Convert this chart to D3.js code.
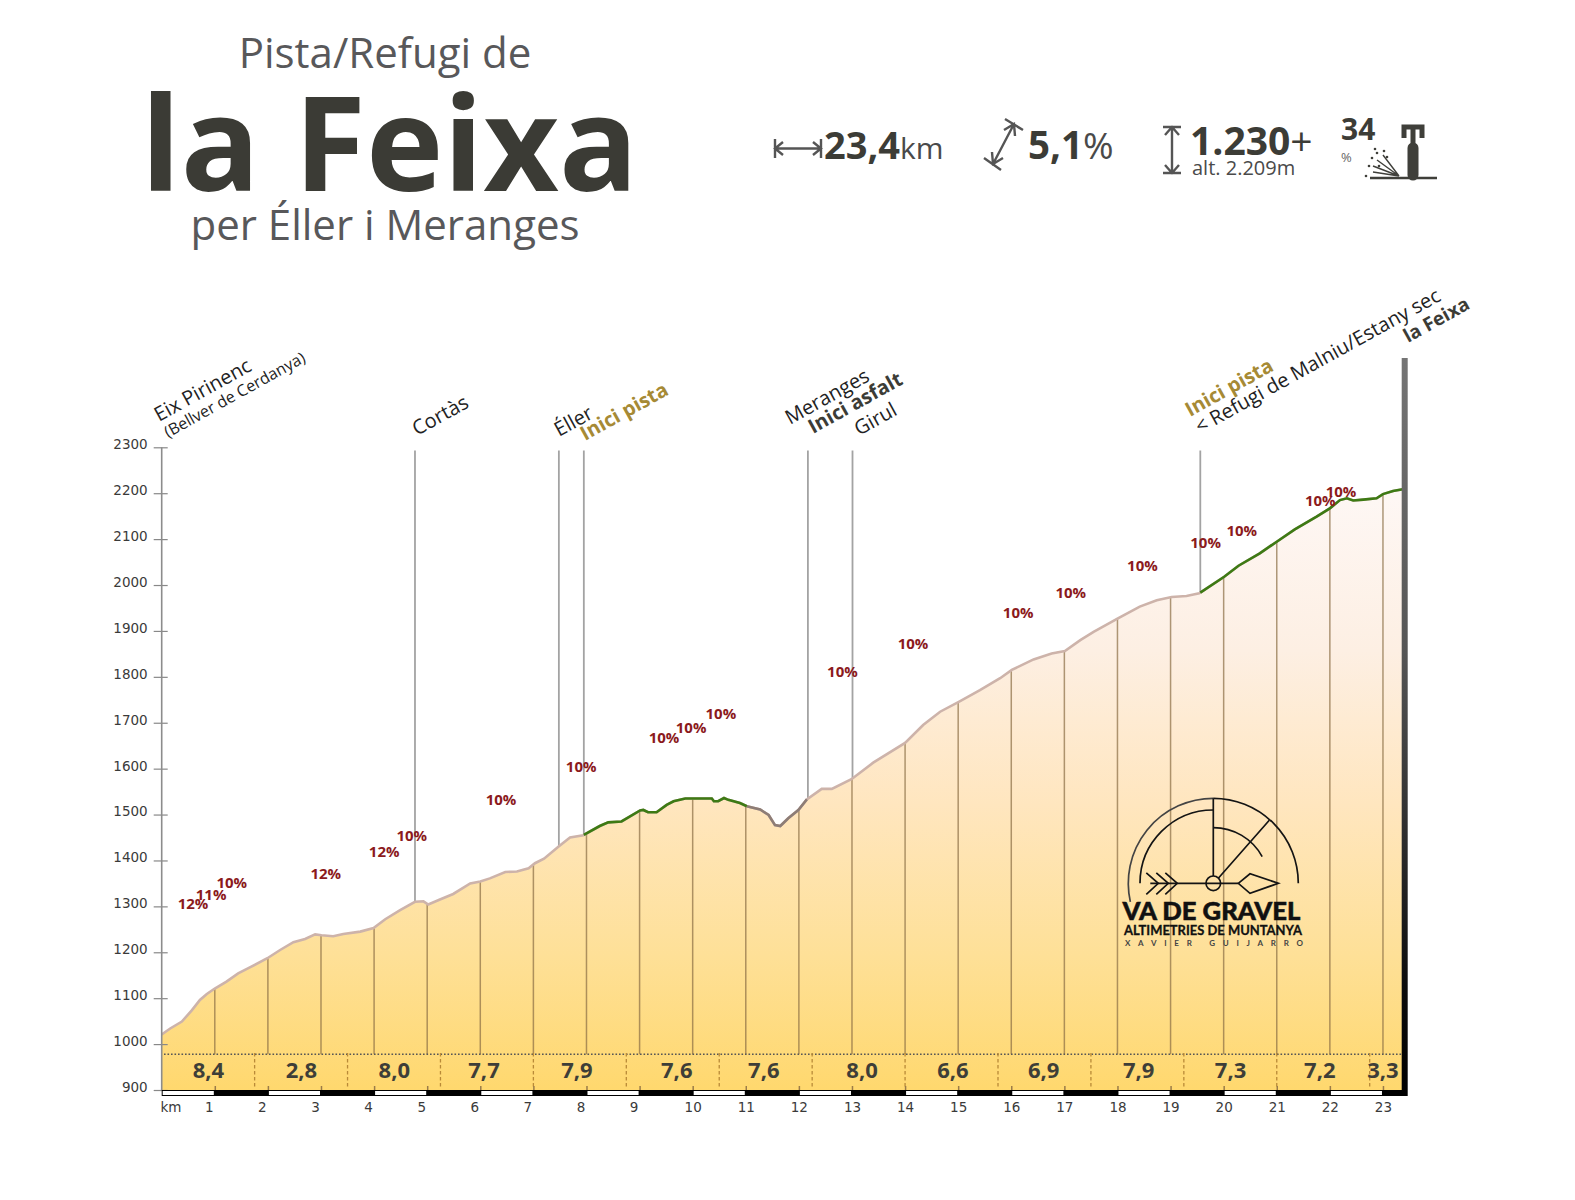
<!DOCTYPE html>
<html>
<head>
<meta charset="utf-8">
<script src="https://cdnjs.cloudflare.com/ajax/libs/d3/7.8.5/d3.min.js"></script>
<style>
  body { margin: 0; background: #fff; }
  text { font-family: "Open Sans", sans-serif; }
  .axis text { font-family: "DejaVu Sans", sans-serif; font-size: 13.5px; fill: #3a3a3a; }
  .axis path { display: none; }
</style>
</head>
<body>
<div id="chart"></div>
<script>
/* profile */
const profileKm = [0, .16, .38, .57, .72, .85, 1, 1.22, 1.44, 1.66, 1.99, 2.23, 2.48, 2.7, 2.89, 3.01, 3.23, 3.42, 3.74, 3.99,
  4.21, 4.49, 4.77, 4.93, 5.02, 5.24, 5.49, 5.81, 6, 6.18, 6.47, 6.69, 6.91, 7.03, 7.2, 7.47, 7.69, 7.94, 8.25, 8.41, 8.66,
  9.01, 9.07, 9.16, 9.32, 9.51, 9.64, 9.86, 10.36, 10.4, 10.48, 10.59, 10.67, 10.89, 11.02, 11.27, 11.43, 11.55, 11.65, 11.8,
  11.99, 12.15, 12.43, 12.62, 12.99, 13.4, 14, 14.34, 14.66, 15.02, 15.41, 15.79, 16.01, 16.42, 16.76, 17.01, 17.3, 17.55,
  18, 18.42, 18.74, 19.02, 19.3, 19.54, 20.01, 20.28, 20.68, 21.02, 21.34, 21.75, 22, 22.19, 22.32, 22.44, 22.63, 22.88,
  23, 23.19, 23.4];
const profileAlt = [1021, 1034, 1049, 1074, 1096, 1109, 1121, 1136, 1154, 1167, 1187, 1205, 1222, 1229, 1239, 1237, 1235, 1240, 1245, 1253,
  1272, 1292, 1310, 1311, 1304, 1315, 1327, 1350, 1354, 1361, 1375, 1376, 1383, 1394, 1404, 1430, 1450, 1455, 1475, 1483, 1485,
  1509, 1510, 1505, 1505, 1521, 1529, 1535, 1535, 1529, 1529, 1536, 1532, 1525, 1518, 1511, 1499, 1477, 1475, 1492,
  1510, 1533, 1556, 1556, 1577, 1613, 1656, 1695, 1724, 1746, 1771, 1797, 1815, 1838, 1851, 1856, 1880, 1898,
  1927, 1953, 1967, 1974, 1976, 1982, 2018, 2042, 2069, 2096, 2121, 2149, 2167, 2185, 2189, 2184, 2186, 2189,
  2198, 2205, 2209];

const altTicks = [900, 1000, 1100, 1200, 1300, 1400, 1500, 1600, 1700, 1800, 1900, 2000, 2100, 2200, 2300];
const kmTicks = d3.range(1, 24);

// gravel stretches and the paved descent, in km
const gravelRanges = [[7.95, 11.02], [19.56, 23.4]];
const descentRange = [11.02, 12.15];

// km of the places with a marker line
const markerKm = [4.77, 7.48, 7.95, 12.17, 13.01, 19.56];

// average gradient per stretch
const stretchEnds = [1.75, 3.5, 5.25, 7, 8.75, 10.5, 12.25, 14, 15.75, 17.5, 19.25, 21, 22.75];
const stretchLabels = ["8,4", "2,8", "8,0", "7,7", "7,9", "7,6", "7,6", "8,0", "6,6", "6,9", "7,9", "7,3", "7,2", "3,3"];
const stretchLabelKm = [.88, 2.63, 4.38, 6.07, 7.82, 9.7, 11.34, 13.19, 14.9, 16.61, 18.4, 20.13, 21.81, 23];

// max gradient labels
const pctLabels = ["12%", "11%", "10%", "12%", "12%", "10%", "10%", "10%", "10%", "10%", "10%", "10%", "10%", "10%", "10%", "10%", "10%", "10%", "10%", "10%"];
const pctKm = [.59, .93, 1.32, 3.09, 4.19, 4.71, 6.39, 7.9, 9.46, 9.97, 10.53, 12.82, 14.15, 16.13, 17.12, 18.47, 19.66, 20.34, 21.82, 22.21];
const pctAlt = [1305, 1325, 1351, 1371, 1419, 1453, 1531, 1604, 1666, 1688, 1719, 1811, 1872, 1940, 1982, 2041, 2092, 2118, 2182, 2202];

const width = 1575, height = 1200;
const svg = d3.select("#chart").append("svg").attr("width", width).attr("height", height)
  .style("display", "block");

const x = d3.scaleLinear().domain([0, 23.4]).range([161.7, 1404.2]);
const y = d3.scaleLinear().domain([900, 2300]).range([1090, 447.3]);
const profile = profileKm.map((k, i) => ({ km: k, alt: profileAlt[i] }));
const altAt = d3.scaleLinear().domain(profileKm).range(profileAlt);
const dottedAlt = y.invert(1054.3);

/* fill */
const defs = svg.append("defs");
const grad = defs.append("linearGradient").attr("id", "fillGrad")
  .attr("gradientUnits", "userSpaceOnUse").attr("x1", 0).attr("x2", 0).attr("y1", 1090).attr("y2", 480);
[[0, "#ffd86e"], [.22, "#fee097"], [.47, "#ffe6bf"], [.72, "#fdefe3"], [1, "#fef8f6"]].forEach(s => {
  grad.append("stop").attr("offset", s[0]).attr("stop-color", s[1]);
});
const poleGrad = defs.append("linearGradient").attr("id", "poleGrad")
  .attr("gradientUnits", "userSpaceOnUse").attr("x1", 0).attr("x2", 0).attr("y1", 358).attr("y2", 1096);
[[0, "#757575"], [.4, "#555"], [.85, "#0c0c0c"], [1, "#000"]].forEach(s => {
  poleGrad.append("stop").attr("offset", s[0]).attr("stop-color", s[1]);
});

const area = d3.area().x(d => x(d.km)).y0(y(900)).y1(d => y(d.alt));
svg.append("path").datum(profile).attr("d", area).attr("fill", "url(#fillGrad)");

/* marker lines */
svg.append("g").selectAll("line").data(markerKm).enter().append("line")
  .attr("x1", d => x(d)).attr("x2", d => x(d))
  .attr("y1", y(2293)).attr("y2", d => y(altAt(d)))
  .attr("stroke", "#a3a3a3").attr("stroke-width", 1.8);

/* km lines */
svg.append("g").selectAll("line").data(kmTicks).enter().append("line")
  .attr("x1", d => x(d)).attr("x2", d => x(d))
  .attr("y1", d => y(altAt(d))).attr("y2", y(dottedAlt))
  .attr("stroke", "#8a6d45").attr("stroke-opacity", .7).attr("stroke-width", 1.5);

/* profile line */
const line = d3.line().x(d => x(d.km)).y(d => y(d.alt));
function stretch(r) {
  const inside = profile.filter(d => d.km > r[0] && d.km < r[1]);
  return [{ km: r[0], alt: altAt(r[0]) }, ...inside, { km: r[1], alt: altAt(r[1]) }];
}
svg.append("path").datum(profile).attr("d", line).attr("fill", "none")
  .attr("stroke", "#cdb3aa").attr("stroke-width", 2.6);
svg.append("path").datum(stretch(descentRange)).attr("d", line).attr("fill", "none")
  .attr("stroke", "#8d7d76").attr("stroke-width", 2.6);
gravelRanges.forEach(r => {
  svg.append("path").datum(stretch(r)).attr("d", line).attr("fill", "none")
    .attr("stroke", "#3d7a14").attr("stroke-width", 2.6);
});

/* stretches */
svg.append("line").attr("x1", 164).attr("x2", x(23.4) - 2)
  .attr("y1", y(dottedAlt)).attr("y2", y(dottedAlt))
  .attr("stroke", "#555").attr("stroke-width", 1.4).attr("stroke-dasharray", "1.6,1.9");
svg.append("g").selectAll("line").data(stretchEnds).enter().append("line")
  .attr("x1", d => x(d)).attr("x2", d => x(d))
  .attr("y1", 1053).attr("y2", 1087)
  .attr("stroke", "#b98a38").attr("stroke-width", 1.3).attr("stroke-dasharray", "3.5,2.5");
svg.append("g").selectAll("text").data(stretchLabels).enter().append("text")
  .attr("x", (d, i) => x(stretchLabelKm[i])).attr("y", 1077.5)
  .attr("text-anchor", "middle").attr("font-size", 22).attr("font-weight", 700)
  .attr("fill", "#3e3e38").text(d => d);

/* gradient labels */
svg.append("g").selectAll("text").data(pctLabels).enter().append("text")
  .attr("x", (d, i) => x(pctKm[i])).attr("y", (d, i) => y(pctAlt[i]) + 5)
  .attr("text-anchor", "middle").attr("font-size", 15).attr("font-weight", 700)
  .attr("fill", "#8b1a1c").text(d => d);

/* axes */
const yAxis = d3.axisLeft(y).tickValues(altTicks).tickFormat(d3.format("d")).tickSize(8);
const gy = svg.append("g").attr("class", "axis").attr("transform", `translate(${x(0)},0)`).call(yAxis);
gy.selectAll("line").attr("x1", 6).attr("stroke", "#888").attr("stroke-width", 1.2);
gy.selectAll("text").attr("x", -14).attr("dy", "0.1em");
svg.append("line").attr("x1", x(0)).attr("x2", x(0)).attr("y1", y(2300)).attr("y2", y(900))
  .attr("stroke", "#8c8c8c").attr("stroke-width", 1.6);

svg.append("rect").attr("x", x(0)).attr("y", 1090).attr("width", x(23.4) - x(0)).attr("height", 6).attr("fill", "#000");
svg.append("g").selectAll("rect").data(d3.range(0, 23, 2)).enter().append("rect")
  .attr("x", d => x(d) + 1).attr("y", 1091).attr("width", x(1) - x(0) - 2).attr("height", 4).attr("fill", "#fff");

const xAxis = d3.axisBottom(x).tickValues(kmTicks).tickFormat(d3.format("d")).tickSizeInner(-4).tickSizeOuter(0);
const gx = svg.append("g").attr("class", "axis").attr("transform", "translate(0,1090)").call(xAxis);
gx.selectAll("line").attr("stroke", "#9a7b48").attr("stroke-width", 1.5);
gx.selectAll("text").attr("y", 22).attr("dy", 0).attr("dx", d => d < 10 ? -6 : 0);
svg.append("text").attr("class", "km").attr("x", 171).attr("y", 1112).attr("text-anchor", "middle")
  .style("font-family", "DejaVu Sans").attr("font-size", 13.5).attr("fill", "#3a3a3a").text("km");

/* finish pole */
svg.append("rect").attr("x", x(23.4) - 2.5).attr("y", 358).attr("width", 6).attr("height", 738).attr("fill", "url(#poleGrad)");

/* place names */
function place(t, px, py, size, weight, color) {
  svg.append("text").attr("transform", `translate(${px},${py}) rotate(-29)`)
    .attr("font-size", size).attr("font-weight", weight).attr("fill", color).text(t);
}
const dark = "#3c3c36", gold = "#a68a35";
place("Eix Pirinenc", 159, 422, 20, 400, "#222");
place("(Bellver de Cerdanya)", 168, 438, 16, 400, "#222");
place("Cortàs", 417, 436, 20, 400, "#222");
place("Éller", 559, 437, 20, 400, "#222");
place("Inici pista", 585, 441, 20, 700, gold);
place("Meranges", 790, 425, 20, 400, "#222");
place("Inici asfalt", 813, 434, 20, 700, dark);
place("Girul", 859, 436, 20, 400, "#222");
place("Inici pista", 1190, 417, 20, 700, gold);
place("< Refugi de Malniu/Estany sec", 1200, 434, 20, 400, "#222");
place("la Feixa", 1408, 343, 19, 700, dark);

/* title */
const title = svg.append("g").attr("text-anchor", "middle");
title.append("text").attr("x", 385).attr("y", 68).attr("font-size", 42).attr("fill", "#58585a").text("Pista/Refugi de");
title.append("text").attr("x", 389.5).attr("y", 191).attr("font-size", 131).attr("font-weight", 700).attr("fill", "#3b3b35").text("la Feixa");
title.append("text").attr("x", 385).attr("y", 240).attr("font-size", 42).attr("fill", "#58585a").text("per Éller i Meranges");

/* headline numbers */
function stat(parent, px, py, parts) {
  const t = parent.append("text").attr("x", px).attr("y", py);
  parts.forEach(p => t.append("tspan").attr("font-size", p[1]).attr("font-weight", p[2]).attr("fill", p[3]).text(p[0]));
}
const stats = svg.append("g");
stat(stats, 824, 159, [["23,4", 38, 700, dark], ["km", 30, 400, "#4a4a4a"]]);
stat(stats, 1028, 159, [["5,1", 38.5, 700, dark], ["%", 37, 400, "#4a4a4a"]]);
stat(stats, 1190, 155, [["1.230", 39, 700, dark], ["+", 39, 400, dark]]);
stat(stats, 1192, 175, [["alt. 2.209m", 20, 400, "#4a4a4a"]]);
stat(stats, 1341, 140, [["34", 30, 700, dark]]);
stat(stats, 1341, 162, [["%", 13, 400, "#666"]]);

const ink = "#555";
const icons = svg.append("g").attr("fill", "none").attr("stroke", ink).attr("stroke-width", 2.4);
icons.append("path").attr("d", "M775,139V158 M821,139V158 M775,148.5H821 M783,142L775,148.5L783,155 M813,142L821,148.5L813,155");
icons.append("path").attr("d", "M984,158L1001,170 M1005,119L1023,130 M993,164L1014,124 M992,152L993,164L1003,158 M1004,130L1014,124L1015,136");
icons.append("path").attr("d", "M1172,127V173 M1163,127H1181 M1163,173H1181 M1165,135L1172,127L1179,135 M1165,165L1172,173L1179,165");

/* bike */
const bike = svg.append("g").attr("fill", "none").attr("stroke", "#3f3f3a");
bike.append("path").attr("d", "M1370,178H1437").attr("stroke-width", 2.4);
bike.append("path").attr("d", "M1404,138V127H1422V138 M1413,127V146").attr("stroke-width", 5);
bike.append("path").attr("d", "M1413,148V175").attr("stroke-width", 11).attr("stroke-linecap", "round");
bike.append("path").attr("d", "M1399,176L1383,155 M1399,176L1377,160 M1399,176L1373,166 M1399,176L1373,172").attr("stroke-width", 1.4);
bike.selectAll("circle").data([[1377, 153], [1384, 151], [1369, 166], [1372, 158], [1366, 176], [1379, 166], [1375, 149], [1387, 157]]).enter().append("circle")
  .attr("cx", d => d[0]).attr("cy", d => d[1]).attr("r", 1.3).attr("fill", "#3f3f3a").attr("stroke", "none");

/* logo */
const logo = svg.append("g").attr("transform", "translate(1213.3,883.3)").attr("fill", "none").attr("stroke", "#141414").attr("stroke-width", 1.7);
const arc = d3.arc();
logo.append("path").attr("d", arc({ innerRadius: 85, outerRadius: 85, startAngle: 0, endAngle: Math.PI / 2 }));
logo.append("path").attr("d", arc({ innerRadius: 85, outerRadius: 85, startAngle: -Math.PI / 2 - .22, endAngle: 0 })).attr("stroke", "#444");
logo.append("path").attr("d", arc({ innerRadius: 73.3, outerRadius: 73.3, startAngle: -Math.PI / 2, endAngle: 0 }));
logo.append("path").attr("d", arc({ innerRadius: 55.7, outerRadius: 55.7, startAngle: 0, endAngle: 1.07 }));
logo.append("path").attr("d", "M0,-7.3V-85 M5,-5L56,-63 M-63,0H25");
logo.append("circle").attr("r", 7.3);
logo.append("path").attr("d", "M25,0L36.7,-9.5L65,0L36.7,10Z");
logo.append("path").attr("d", "M-67,-10.5L-55,0L-67,11 M-57,-10.5L-45,0L-57,11 M-48,-10.5L-36,0L-48,11");
const logoText = svg.append("g").attr("fill", "#111");
logoText.append("text").attr("x", 1122.5).attr("y", 920).attr("textLength", 178).attr("lengthAdjust", "spacingAndGlyphs")
  .style("font-family", "Lato").attr("font-size", 25).attr("font-weight", 900).attr("stroke", "#111").attr("stroke-width", .5).text("VA DE GRAVEL");
logoText.append("text").attr("x", 1124).attr("y", 935).attr("textLength", 178).attr("lengthAdjust", "spacingAndGlyphs")
  .style("font-family", "Lato").attr("font-size", 13.5).attr("font-weight", 700).attr("stroke", "#111").attr("stroke-width", .3).text("ALTIMETRIES DE MUNTANYA");
logoText.append("text").attr("x", 1125).attr("y", 946).attr("textLength", 178).attr("lengthAdjust", "spacing")
  .style("font-family", "Lato").attr("font-size", 8).attr("font-weight", 700).attr("fill", "#444").text("XAVIER GUIJARRO");
</script>
</body>
</html>
